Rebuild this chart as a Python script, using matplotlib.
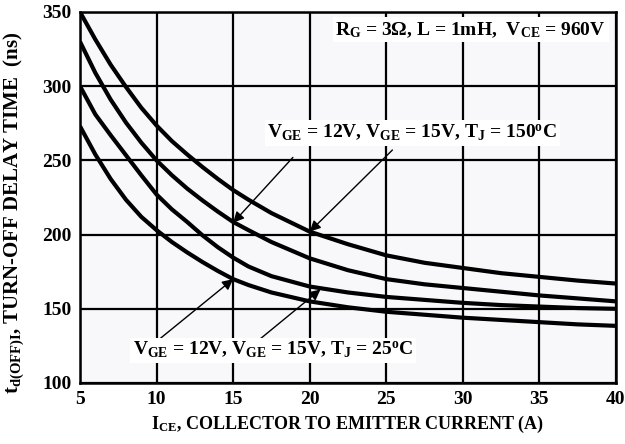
import numpy as np
import matplotlib
matplotlib.use("Agg")
import matplotlib.pyplot as plt

# datos
ice = [5, 6, 7, 8, 9, 10, 11, 12, 13, 14, 15, 16, 17.5, 20, 22.5, 25, 27.5, 30, 32.5, 35, 37.5, 40]
td_150_15 = [350, 331.5, 314.5, 299.5, 285.5, 273.5, 263, 254, 245.5, 237.5, 230, 223.5, 214.5, 202, 193.5, 186, 181, 177.5, 174, 171.5, 169, 167]
td_150_12 = [330, 309, 291, 275.5, 262, 250, 240, 231, 223, 215.5, 208.5, 203, 195, 184, 176, 170, 166.5, 164, 161.5, 159, 157, 155]
td_25_15 = [300, 281, 267, 253.5, 240, 227, 217, 208.5, 199.5, 191.5, 184.5, 178.5, 172, 165, 161, 158, 156, 154, 152.5, 151.5, 150.5, 150]
td_25_12 = [273, 254, 237.5, 223.5, 212, 203, 195, 188, 181.5, 175.5, 170, 166, 161, 155, 151, 148, 146, 144, 142.5, 141, 139.5, 138.5]

xticks = [5, 10, 15, 20, 25, 30, 35, 40]
yticks = [100, 150, 200, 250, 300, 350]

plt.rcParams["font.family"] = ["Liberation Serif", "DejaVu Serif"]
plt.rcParams["font.weight"] = "bold"
plt.rcParams["mathtext.fontset"] = "custom"
plt.rcParams["mathtext.rm"] = "Liberation Serif:bold"
plt.rcParams["mathtext.bf"] = "Liberation Serif:bold"
plt.rcParams["mathtext.it"] = "Liberation Serif:bold"

fig = plt.figure(figsize=(6.25, 4.44), dpi=100)
ax = fig.add_axes([0.128, 0.1374, 0.8576, 0.8356])
ax.set_facecolor("#f8f7fa")

for serie in [td_150_15, td_150_12, td_25_15, td_25_12]:
    ax.plot(ice, serie, color="black", lw=3.0, solid_capstyle="butt", solid_joinstyle="round", zorder=3)

ax.set_xlim(5, 40)
ax.set_ylim(100, 350)
ax.set_xticks(xticks)
ax.set_yticks(yticks)
ax.grid(True, color="black", lw=1.6)
ax.tick_params(length=0, labelsize=14, pad=6)
for s in ax.spines.values():
    s.set_linewidth(1.8)

ax.set_xlabel(r"$\mathregular{I_{CE}}$, COLLECTOR TO EMITTER CURRENT (A)", fontsize=13, fontweight="bold", labelpad=4)
ax.set_ylabel(r"$\mathregular{t_{d(OFF)I}}$, TURN-OFF DELAY TIME  (ns)", fontsize=15, fontweight="bold")
ax.yaxis.set_label_coords(-0.1, 0.458)

caja = dict(facecolor="white", edgecolor="none", pad=2)
ax.text(30.5, 338, r"$\mathregular{R_G}$ = 3$\mathregular{\Omega}$, L = 1mH,  $\mathregular{V_{CE}}$ = 960V",
        ha="center", va="center", fontsize=14, fontweight="bold", bbox=caja, zorder=5)
ax.text(26.7, 268.5, r"$\mathregular{V_{GE}}$ = 12V, $\mathregular{V_{GE}}$ = 15V, $\mathregular{T_J}$ = 150$\mathregular{^o}$C",
        ha="center", va="center", fontsize=14, fontweight="bold", bbox=caja, zorder=5)
ax.text(17.6, 122, r"$\mathregular{V_{GE}}$ = 12V, $\mathregular{V_{GE}}$ = 15V, $\mathregular{T_J}$ = 25$\mathregular{^o}$C",
        ha="center", va="center", fontsize=14, fontweight="bold", bbox=caja, zorder=5)

flecha = dict(arrowstyle="-|>", color="black", lw=1.0, mutation_scale=16, shrinkA=0, shrinkB=0)
ax.annotate("", xy=(15, 208), xytext=(18.9, 252), arrowprops=flecha, zorder=4)
ax.annotate("", xy=(20, 202), xytext=(25.4, 257), arrowprops=flecha, zorder=4)
ax.annotate("", xy=(15, 170), xytext=(10.0, 128), arrowprops=flecha, zorder=4)
ax.annotate("", xy=(20.7, 163), xytext=(16.8, 130), arrowprops=flecha, zorder=4)

fig.savefig("out.png", dpi=100)
